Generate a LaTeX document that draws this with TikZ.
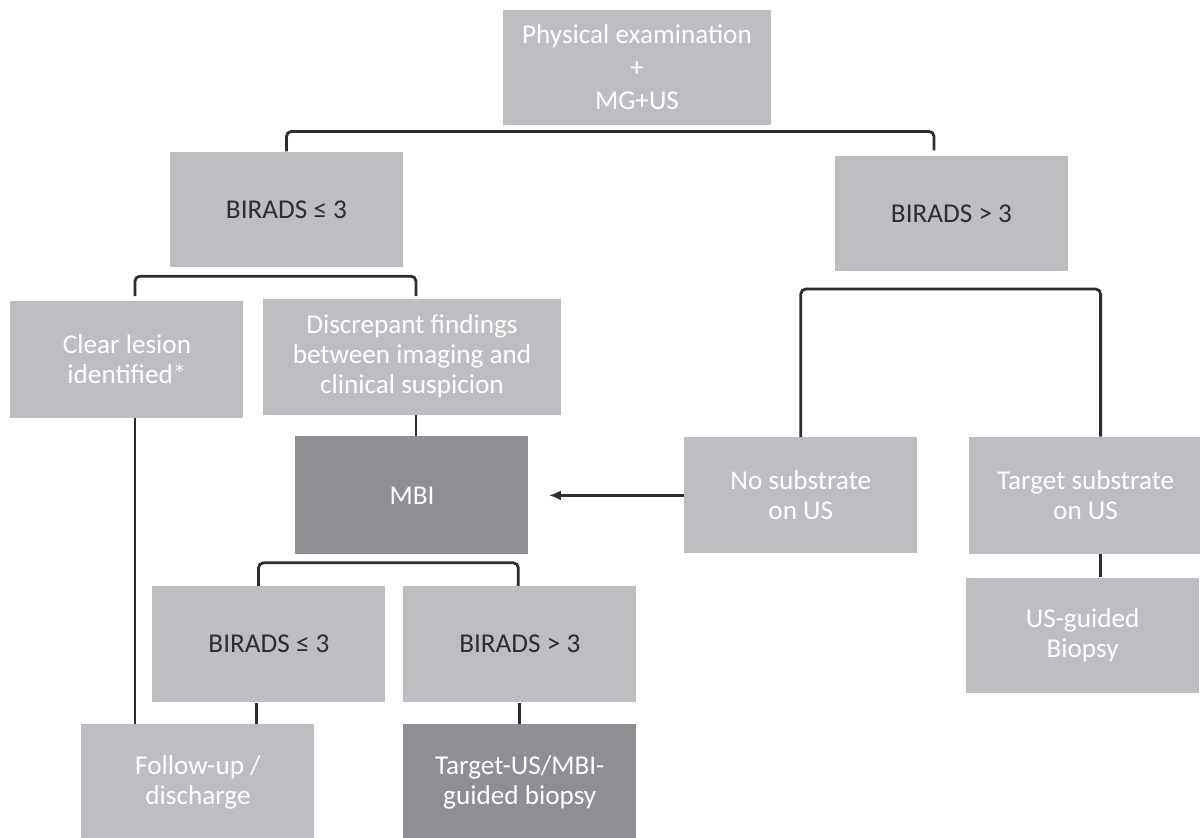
\documentclass[tikz,border=0pt]{standalone}
\usepackage{fontspec}
\setmainfont{Carlito}
\usepackage{xcolor}
\usepackage{tikz}
\usetikzlibrary{positioning,arrows.meta}

\definecolor{boxlight}{RGB}{189,190,194}
\definecolor{boxdark}{RGB}{142,143,147}
\definecolor{inkdark}{RGB}{45,45,48}

\begin{document}
\begin{tikzpicture}[
  font=\fontsize{13.6}{15}\selectfont,
  box/.style={align=center, inner sep=2pt, minimum width=116.5pt,
              minimum height=57.5pt, text=white},
  light/.style={box, fill=boxlight},
  dark/.style={box, fill=boxdark},
  score/.style={light, text=inkdark},
  link/.style={line width=1.4pt, draw=inkdark, rounded corners=2.5pt},
  arrow/.style={link, -{Latex[length=6pt,width=5pt]}},
]
\useasboundingbox (-318.5pt,33.75pt) rectangle (281.5pt,-384.75pt);
\node[light, minimum width=134pt] (exam) {Physical examination\\[1.5pt] +\\[1.5pt] MG+US};
\node[score, below=13pt of exam, xshift=-175.25pt] (low) {BIRADS ≤ 3};
\node[score, below=15pt of exam, xshift=157.25pt] (high) {BIRADS > 3};
\node[light, below=16.5pt of low, xshift=-79.75pt, minimum height=58.5pt] (clear) {Clear lesion\\identified*};
\node[light, below=15.5pt of low, xshift=62.75pt, minimum width=149pt, minimum height=58pt] (disc) {Discrepant findings\\between imaging and\\clinical suspicion};
\node[dark, below=10.5pt of disc, minimum height=59pt] (mbi) {MBI};
\node[light, right=77.5pt of mbi, minimum height=58pt] (nosub) {No substrate\\on US};
\node[light, right=25.5pt of nosub, minimum height=58.5pt] (tgtsub) {Target substrate\\on US};
\node[light, below=11.5pt of tgtsub, xshift=-1.5pt] (usbx) {US-guided\\Biopsy};
\node[score, below=15.5pt of mbi, xshift=-71.5pt, minimum height=58pt] (mlow) {BIRADS ≤ 3};
\node[score, right=8.5pt of mlow, minimum height=58pt] (mhigh) {BIRADS > 3};
\node[light, below=10.5pt of mlow, xshift=-35.5pt, minimum height=58.5pt] (follow) {Follow-up /\\discharge};
\node[dark, below=10.5pt of mhigh, minimum height=58.5pt] (tbiopsy) {Target-US/MBI-\\guided biopsy};
% brackets
\draw[link] (low.north) -- ++(0,10pt) -| ([xshift=-8.75pt,yshift=2.5pt]high.north);
\draw[link] ([xshift=4pt,yshift=2pt]clear.north) -- ++(0,10pt) -| ([xshift=2pt,yshift=1pt]disc.north);
\draw[link] (nosub.north) -- ++(0,74pt) -| ([xshift=7.5pt]tgtsub.north);
\draw[link] ([xshift=-5.25pt]mlow.north) -- ++(0,11.5pt) -| ([xshift=-0.75pt]mhigh.north);
% straight links
\draw[link] ([xshift=2pt]disc.south) -- ([xshift=2pt]mbi.north);
\draw[link] ([xshift=4pt]clear.south) -- ([xshift=4pt]clear.south |- follow.north);
\draw[link] ([xshift=7.5pt]tgtsub.south) -- ([xshift=7.5pt]tgtsub.south |- usbx.north);
\draw[link] ([xshift=-6.25pt]mlow.south) -- ([xshift=-6.25pt]mlow.south |- follow.north);
\draw[link] (mhigh.south) -- (tbiopsy.north);
\draw[arrow] (nosub.west) -- ([xshift=10pt]mbi.east);
\end{tikzpicture}
\end{document}
